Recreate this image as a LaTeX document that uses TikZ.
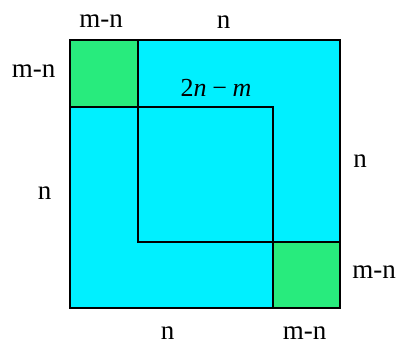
\documentclass[tikz,border=0pt]{standalone}
\usepackage{fontspec}
\setmainfont{Liberation Serif}
\definecolor{sqcyan}{RGB}{0,240,255}
\definecolor{sqgreen}{RGB}{40,235,125}
\begin{document}
\begin{tikzpicture}[x=1pt,y=-1pt,
  edge/.style={line width=1.8pt,black},
  lab/.style={font=\fontsize{27}{29}\selectfont,inner sep=0pt},
  mlab/.style={font=\fontsize{26}{28}\selectfont,inner sep=0pt}]
\useasboundingbox (0,0) rectangle (406,344);
\fill[sqcyan] (70,40) rectangle (340,308);
\fill[sqgreen] (70,40) rectangle (138,107);
\fill[sqgreen] (273,242) rectangle (340,308);
\coordinate (TL) at (70,40);
\coordinate (BR) at (340,308);
\coordinate (a1) at (138,40);
\coordinate (a2) at (138,242);
\coordinate (b1) at (70,107);
\coordinate (b2) at (273,107);
\coordinate (c1) at (273,308);
\coordinate (d1) at (340,242);
\draw[edge] (TL) rectangle (BR);
\draw[edge] (a1) -- (a2) -- (d1);
\draw[edge] (b1) -- (b2) -- (c1);
\node[lab] (t1) at (101,21) {m-n};
\node[lab] (t2) at (223.5,22) {n};
\node[lab] (l1) at (33.5,71.5) {m-n};
\node[lab] (l2) at (44.5,193) {n};
\node[mlab,anchor=base] (mid) at (216,97) {2\textit{n}\hspace{0.22em}−\hspace{0.22em}\textit{m}};
\node[lab] (r1) at (360,161) {n};
\node[lab] (r2) at (374,272) {m-n};
\node[lab] (b1l) at (304.5,333) {m-n};
\node[lab] (b2l) at (167.5,333) {n};
\end{tikzpicture}
\end{document}
